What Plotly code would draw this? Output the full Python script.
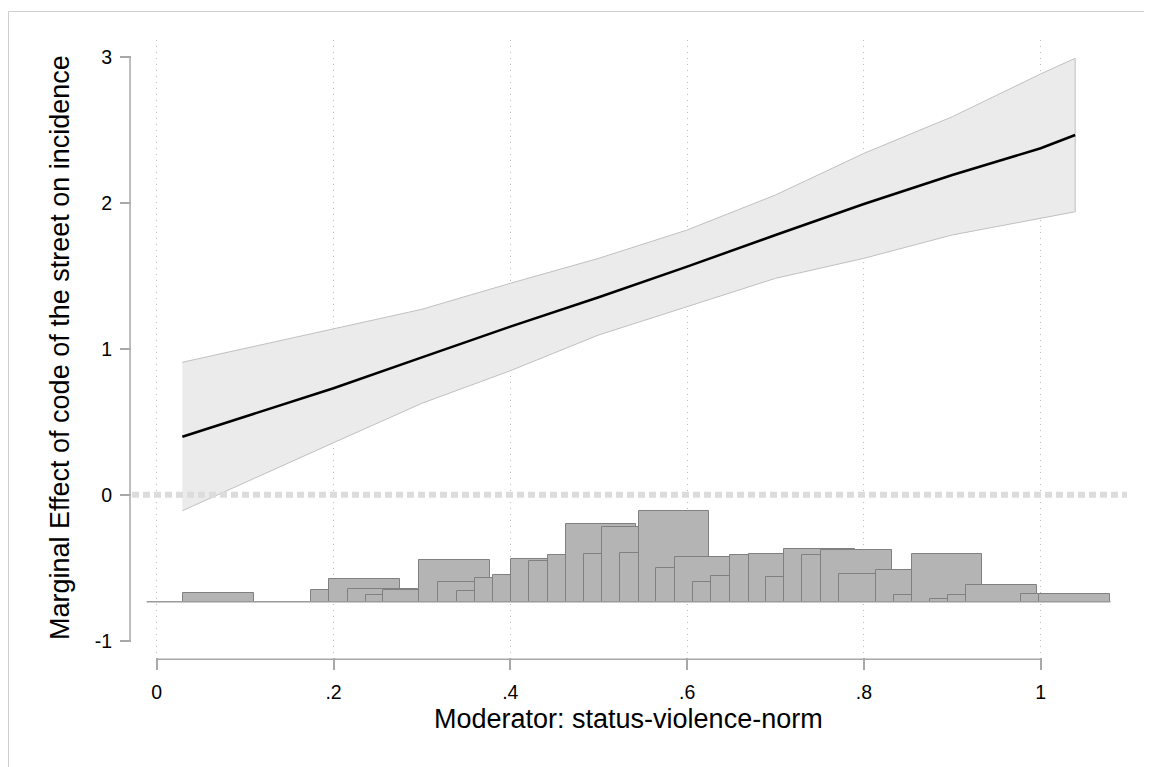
import plotly.graph_objects as go

# ---------------- data ----------------
mod_x = [0.029, 0.100, 0.200, 0.300, 0.400, 0.500, 0.600, 0.700, 0.800, 0.900, 1.000, 1.039]
me_line = [0.397, 0.534, 0.729, 0.941, 1.151, 1.352, 1.562, 1.779, 1.991, 2.190, 2.373, 2.464]
ci_upper = [0.907, 1.003, 1.135, 1.270, 1.448, 1.619, 1.813, 2.053, 2.338, 2.589, 2.882, 2.989]
ci_lower = [-0.110, 0.085, 0.356, 0.626, 0.849, 1.094, 1.288, 1.482, 1.619, 1.779, 1.893, 1.938]

hist_x = [0.0701, 0.2146, 0.2350, 0.2561, 0.2768, 0.2964, 0.3371, 0.3586, 0.3794, 0.3998,
          0.4205, 0.4408, 0.4615, 0.4824, 0.5027, 0.5234, 0.5441, 0.5645, 0.5853, 0.6052,
          0.6264, 0.6471, 0.6674, 0.6886, 0.7097, 0.7293, 0.7500, 0.7704, 0.7915, 0.8122,
          0.8534, 0.8738, 0.8941, 0.9148, 0.9352, 0.9559, 1.0178, 1.0385]
hist_h = [0.0616, 0.0801, 0.1575, 0.0849, 0.0479, 0.0801, 0.2836, 0.1349, 0.0712, 0.1603,
          0.1829, 0.2925, 0.2788, 0.3199, 0.5322, 0.3247, 0.5116, 0.3336, 0.6212, 0.2308,
          0.3062, 0.1329, 0.1740, 0.3178, 0.3247, 0.1692, 0.3589, 0.3178, 0.3541, 0.1877,
          0.2151, 0.0438, 0.3247, 0.0205, 0.0438, 0.1123, 0.0507, 0.0507]
hist_base = -0.733
hist_base_x = [-0.0113, 1.079]

x_ticks = [0, 0.2, 0.4, 0.6, 0.8, 1]
x_tick_text = ["0", ".2", ".4", ".6", ".8", "1"]
y_ticks = [-1, 0, 1, 2, 3]
y_tick_text = ["-1", "0", "1", "2", "3"]

x_title = "Moderator: status-violence-norm"
y_title = "Marginal Effect of code of the street on incidence"

# ---------------- geometry ----------------
# page is offset by the default 8px body margin, so the figure is 8px smaller
OFF = 8
W, H = 1152 - OFF, 767 - OFF
# plot area in page pixels: x 132..1127, y 40..657
ML, MT = 132 - OFF, 40 - OFF
MR, MB = W - (1127 - OFF), H - (657 - OFF)
PW, PH = W - ML - MR, H - MT - MB
XR = [-0.02794, 1.09762]
YR = [-1.1116, 3.1144]


def px_x(px):  # page pixel -> paper x
    return (px - OFF - ML) / PW


def px_y(py):  # page pixel -> paper y
    return (H - MB - (py - OFF)) / PH


def dx(v):
    return (v - XR[0]) / (XR[1] - XR[0])


def dy(v):
    return (v - YR[0]) / (YR[1] - YR[0])


FONT = "Arial, Liberation Sans, Helvetica, sans-serif"
AXIS_COL = "#a8a8a8"

fig = go.Figure()

# confidence band (closed polygon)
fig.add_trace(go.Scatter(
    x=mod_x + mod_x[::-1], y=ci_upper + ci_lower[::-1],
    fill="toself", fillcolor="#ebebeb", mode="lines",
    line=dict(color="#c0c0c0", width=1), hoverinfo="skip", showlegend=False))

# marginal effect line
fig.add_trace(go.Scatter(
    x=mod_x, y=me_line, mode="lines",
    line=dict(color="#000000", width=2.5), showlegend=False))

# histogram baseline
fig.add_trace(go.Scatter(
    x=hist_base_x, y=[hist_base, hist_base], mode="lines",
    line=dict(color="#9a9a9a", width=1.5), showlegend=False))

# histogram bars (drawn in order; later bars overlap earlier)
fig.add_trace(go.Bar(
    x=hist_x, y=hist_h, base=hist_base, width=0.08,
    marker=dict(color="#b4b4b4", line=dict(color="#808080", width=1)),
    showlegend=False))

shapes = [
    # zero reference line
    dict(type="line", xref="paper", yref="y", x0=0, x1=1, y0=0, y1=0,
         line=dict(color="#dcdcdc", width=6, dash="7px,4px"), layer="above"),
    # y axis line (spans tick range)
    dict(type="line", xref="paper", yref="paper", x0=px_x(130), x1=px_x(130),
         y0=dy(y_ticks[0]), y1=dy(y_ticks[-1]), line=dict(color=AXIS_COL, width=1.5)),
    # x axis line (spans tick range)
    dict(type="line", xref="paper", yref="paper", x0=dx(x_ticks[0]), x1=dx(x_ticks[-1]),
         y0=px_y(659.3), y1=px_y(659.3), line=dict(color=AXIS_COL, width=1.5)),
    # outer frame
    dict(type="rect", xref="paper", yref="paper", x0=px_x(8.5), x1=px_x(1300),
         y0=px_y(900), y1=px_y(11.5), line=dict(color="#cfcfcf", width=1)),
]

annotations = [
    dict(text=y_title, xref="paper", yref="paper", x=px_x(60), y=px_y(348),
         textangle=-90, showarrow=False, xanchor="center", yanchor="middle",
         font=dict(family=FONT, size=27, color="#000000")),
    dict(text=x_title, xref="paper", yref="paper", x=px_x(628.5), y=px_y(719),
         showarrow=False, xanchor="center", yanchor="middle",
         font=dict(family=FONT, size=27, color="#000000")),
]

fig.update_layout(
    width=W, height=H,
    margin=dict(l=ML, r=MR, t=MT, b=MB, pad=0),
    paper_bgcolor="white", plot_bgcolor="white",
    barmode="overlay", bargap=0,
    shapes=shapes, annotations=annotations,
    font=dict(family=FONT, size=19.5, color="#000000"),
    xaxis=dict(range=XR, tickmode="array", tickvals=x_ticks, ticktext=x_tick_text,
               showgrid=True, gridcolor="#bdbdbd", griddash="1px,5px", gridwidth=1,
               zeroline=False, showline=False, ticks="outside", ticklen=12,
               tickcolor=AXIS_COL, tickwidth=1.5, ticklabelstandoff=6,
               tickfont=dict(family=FONT, size=19.5, color="#000000")),
    yaxis=dict(range=YR, tickmode="array", tickvals=y_ticks, ticktext=y_tick_text,
               showgrid=False, zeroline=False, showline=False, ticks="outside",
               ticklen=11, tickcolor=AXIS_COL, tickwidth=1.5, ticklabelstandoff=4,
               tickfont=dict(family=FONT, size=19.5, color="#000000")),
)

fig.write_html("out.html", config={"displayModeBar": False})
